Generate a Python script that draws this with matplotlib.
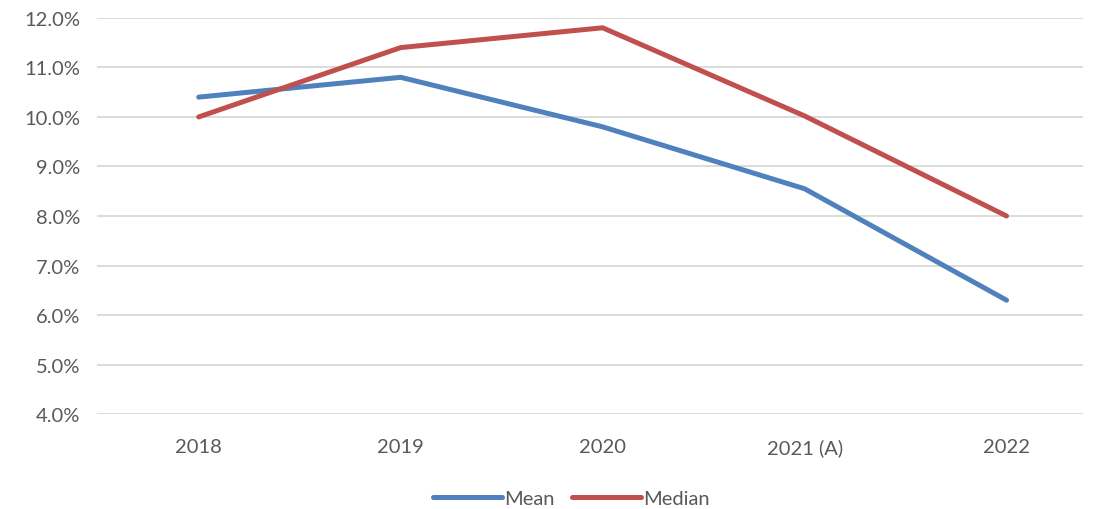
import matplotlib.pyplot as plt
from matplotlib.ticker import FuncFormatter

years = ["2018", "2019", "2020", "2021 (A)", "2022"]
mean = [10.4, 10.8, 9.8, 8.55, 6.3]
median = [10.0, 11.4, 11.8, 10.02, 8.0]

plt.rcParams["font.family"] = ["Lato", "DejaVu Sans"]
grey = "#595959"

fig = plt.figure(figsize=(10.99, 5.10), dpi=100)
ax = fig.add_axes([0.088, 0.186, 0.897, 0.777])

x = range(len(years))
ax.plot(x, mean, color="#4F81BD", lw=3.6, solid_capstyle="round", label="Mean")
ax.plot(x, median, color="#C0504D", lw=3.6, solid_capstyle="round", label="Median")

ax.set_xlim(-0.505, 4.376)
ax.set_ylim(4, 12)
ax.set_yticks(range(4, 13))
ax.yaxis.set_major_formatter(FuncFormatter(lambda v, p: f"{v:.1f}%"))
ax.set_xticks(list(x))
ax.set_xticklabels(years)
ax.tick_params(axis="both", length=0, labelsize=14.5, colors=grey)
ax.tick_params(axis="x", pad=17)
ax.tick_params(axis="y", pad=12)

ax.grid(axis="y", color="#D9D9D9", lw=1.3)
ax.set_axisbelow(True)
for s in ax.spines.values():
    s.set_visible(False)

leg = fig.legend(loc="center", bbox_to_anchor=(0.52, 0.02), ncol=2, frameon=False,
                 fontsize=14.5, handlelength=3.4, handletextpad=0.1, columnspacing=0.9)
for t in leg.get_texts():
    t.set_color(grey)

fig.savefig("out.png", dpi=100)
